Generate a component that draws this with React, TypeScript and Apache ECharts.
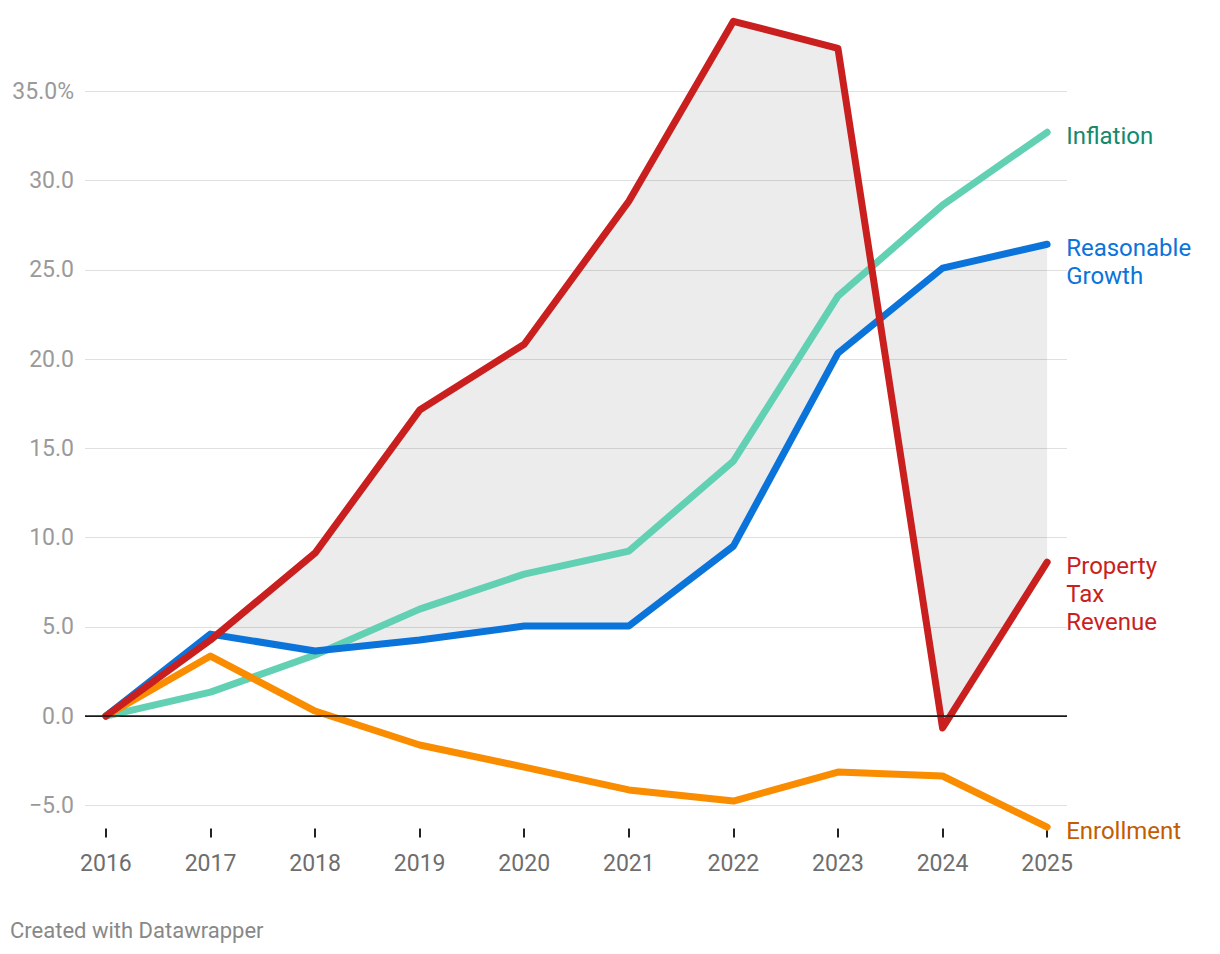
import React, { useEffect, useRef } from "react";
import * as echarts from "echarts";

const years = [2016, 2017, 2018, 2019, 2020, 2021, 2022, 2023, 2024, 2025];
const inflation = [0, 1.34, 3.42, 5.99, 7.95, 9.24, 14.28, 23.52, 28.62, 32.7];
const reasonableGrowth = [0, 4.59, 3.64, 4.26, 5.04, 5.04, 9.52, 20.33, 25.09, 26.43];
const propertyTax = [0, 4.26, 9.13, 17.14, 20.83, 28.84, 38.92, 37.4, -0.67, 8.62];
const enrollment = [0, 3.36, 0.28, -1.62, -2.86, -4.14, -4.76, -3.14, -3.36, -6.22];
const yTicks = [-5, 0, 5, 10, 15, 20, 25, 30, 35];

const FONT = "Roboto, 'Noto Sans', sans-serif";

function fmtY(v: number): string {
  if (v === 35) return "35.0%";
  if (v < 0) return "\u2212" + Math.abs(v).toFixed(1);
  return v.toFixed(1);
}

function lineSeries(name: string, data: number[], color: string, labelColor: string, label: string) {
  return {
    type: "line",
    name,
    data: years.map((y, i) => [y, data[i]]),
    showSymbol: false,
    symbol: "none",
    lineStyle: { color, width: 7, cap: "round", join: "round" },
    itemStyle: { color },
    emphasis: { disabled: true },
    endLabel: {
      show: true,
      formatter: label,
      color: labelColor,
      fontFamily: FONT,
      fontSize: 24,
      lineHeight: 28,
      distance: 19,
      verticalAlign: "top",
      offset: [0, -10],
    },
    z: 3,
  };
}

export default function App() {
  const ref = useRef<HTMLDivElement>(null);
  useEffect(() => {
    document.body.style.margin = "0";
    const chart = echarts.init(ref.current!, null, { renderer: "svg" });
    const splitColors = yTicks.map((t) => (t === 0 ? "#1a1a1a" : "#e0e0e0"));
    chart.setOption({
      animation: false,
      backgroundColor: "#ffffff",
      textStyle: { fontFamily: FONT },
      grid: { left: 85, right: 153, top: 2, bottom: 125.5, containLabel: false },
      xAxis: {
        type: "value",
        min: 2015.8,
        max: 2025.19,
        axisLine: { show: false, onZero: false },
        splitLine: { show: false },
        axisTick: {
          show: true,
          customValues: years,
          length: 9,
          lineStyle: { color: "#222", width: 2 },
        },
        axisLabel: {
          customValues: years,
          formatter: (v: number) => String(v),
          color: "#6e6e6e",
          fontSize: 23,
          fontFamily: FONT,
          margin: 23,
        },
      },
      yAxis: {
        type: "value",
        min: -6.3,
        max: 40,
        axisLine: { show: false },
        axisTick: { show: false, customValues: yTicks },
        axisLabel: {
          customValues: yTicks,
          formatter: (v: number) => fmtY(v),
          color: "#9a9a9a",
          fontSize: 23,
          fontFamily: FONT,
          margin: 11,
        },
        splitLine: { show: true, lineStyle: { color: splitColors, width: 1 } },
      },
      graphic: [
        {
          type: "text",
          left: 10,
          top: 919,
          style: { text: "Created with Datawrapper", fill: "#888888", font: `22px ${FONT}` },
        },
      ],
      series: [
        {
          type: "custom",
          name: "band",
          data: years.map((y, i) => [y, propertyTax[i], reasonableGrowth[i]]),
          renderItem: (params: any, api: any) => {
            if (params.dataIndex !== 0) return null;
            const pts: number[][] = [];
            for (let i = 0; i < years.length; i++) pts.push(api.coord([years[i], propertyTax[i]]));
            for (let i = years.length - 1; i >= 0; i--) pts.push(api.coord([years[i], reasonableGrowth[i]]));
            return {
              type: "polygon",
              shape: { points: pts },
              style: { fill: "rgba(0,0,0,0.075)", stroke: "none" },
            };
          },
          markLine: {
            silent: true,
            symbol: "none",
            label: { show: false },
            lineStyle: { color: "#1a1a1a", width: 1.6, type: "solid" },
            data: [{ yAxis: 0 }],
          },
          silent: true,
          z: 1,
        },
        lineSeries("Inflation", inflation, "#62d0b3", "#13896e", "Inflation"),
        lineSeries("Reasonable Growth", reasonableGrowth, "#0a74da", "#0a74da", "Reasonable\nGrowth"),
        lineSeries("Enrollment", enrollment, "#fa8c00", "#c45c00", "Enrollment"),
        lineSeries("Property Tax Revenue", propertyTax, "#c91f1e", "#c91f1e", "Property\nTax\nRevenue"),
      ],
    });
    return () => chart.dispose();
  }, []);
  return <div ref={ref} style={{ position: "absolute", left: 0, top: 0, width: 1220, height: 954 }} />;
}
